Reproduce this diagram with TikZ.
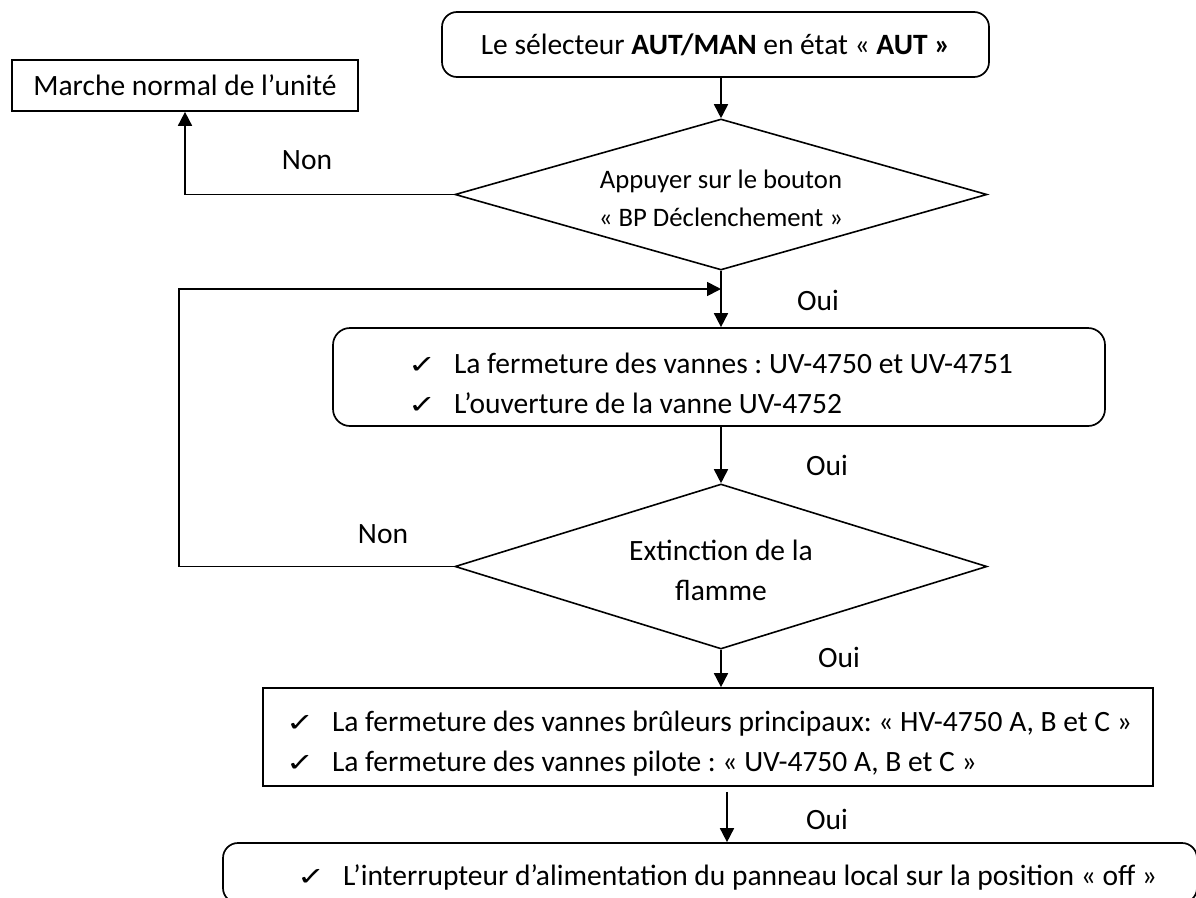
\documentclass[tikz,border=0pt]{standalone}
\usepackage{fontspec}
\setmainfont{Carlito}
\newfontfamily\symfont{DejaVu Sans}
\usetikzlibrary{arrows.meta,shapes.geometric}
\frenchspacing
% check mark followed by a fixed gap before the item text
\newcommand\ck{\makebox[46pt][l]{\symfont\fontsize{30}{30}\selectfont\scalebox{1.12}[0.85]{✓}}}
% invisible strut that lifts the top of a text block
\newcommand\lift[1]{\rule{0pt}{#1}}

\begin{document}
\begin{tikzpicture}[x=1pt,y=-1pt,
  every node/.style={font=\fontsize{29.5}{40}\selectfont, inner sep=0pt},
  frame/.style={draw, line width=1.7pt},
  roundframe/.style={frame, rounded corners=15pt},
  listbox/.style={align=flush left},
  choice/.style={draw, line width=1.6pt, diamond, shape aspect=3.5, align=center},
  flow/.style={line width=1.7pt, -{Triangle[length=14pt,width=14pt]}}]
\useasboundingbox (0,0) rectangle (1196,897);
\clip (0,0) rectangle (1196,897);

% boxes and decisions
\node[roundframe, minimum width=547pt, minimum height=65pt] (top) at (715.5,44.5)
  {Le sélecteur \textbf{AUT/MAN} en état « \textbf{AUT »}};
\node[frame, minimum width=346pt, minimum height=51pt] (normal) at (185,85.5)
  {Marche normal de l’unité};
\node[choice, minimum width=532pt, minimum height=151pt, font=\fontsize{26.7}{38}\selectfont] (d1) at (721,194.5)
  {\lift{27pt}Appuyer sur le bouton\\« BP Déclenchement »};
\node[roundframe, rounded corners=17pt, listbox, text width=772pt, minimum height=98pt] (b2) at (719,377)
  {\mbox{\lift{34pt}\hspace*{75pt}\ck La fermeture des vannes : UV-4750 et UV-4751}\\
   \mbox{\hspace*{75pt}\ck L’ouverture de la vanne UV-4752}};
\node[choice, minimum width=532pt, minimum height=165pt] (d2) at (721,566.5)
  {\lift{28pt}Extinction de la\\flamme};
\node[frame, listbox, text width=890pt, minimum height=98pt] (b3) at (708,737)
  {\mbox{\lift{34pt}\hspace*{23pt}\ck La fermeture des vannes brûleurs principaux: « HV-4750 A, B et C »}\\
   \mbox{\hspace*{23pt}\ck La fermeture des vannes pilote : « UV-4750 A, B et C »}};
\node[roundframe, listbox, text width=974pt, minimum height=60pt] (b4) at (710,873)
  {\mbox{\lift{30pt}\hspace*{74pt}\ck L’interrupteur d’alimentation du panneau local sur la position « off »}};

% connectors
\draw[flow] (d1.north |- top.south) -- (d1.north);
\draw[flow] (d1.west) -| (normal.south);
\draw[flow] (d1.south) -- (d1.south |- b2.north);
\coordinate (back) at (179,289);
\coordinate (join) at (d1.south |- back);
\draw[flow] (d2.west) -| (back) -- (join);
\draw[flow] (b2.south -| d2.north) -- (d2.north);
\draw[flow] (d2.south) -- (d2.south |- b3.north);
\draw[flow, shorten <=5pt] ([xshift=19pt]b3.south) -- ([xshift=19pt]b3.south |- b4.north);

% branch labels
\node (non1) at (307,160) {Non};
\node (non2) at (383,534) {Non};
\node (oui1) at (818,300) {Oui};
\node (oui2) at (827,465) {Oui};
\node (oui3) at (839,657) {Oui};
\node (oui4) at (827,819) {Oui};
\end{tikzpicture}
\end{document}
